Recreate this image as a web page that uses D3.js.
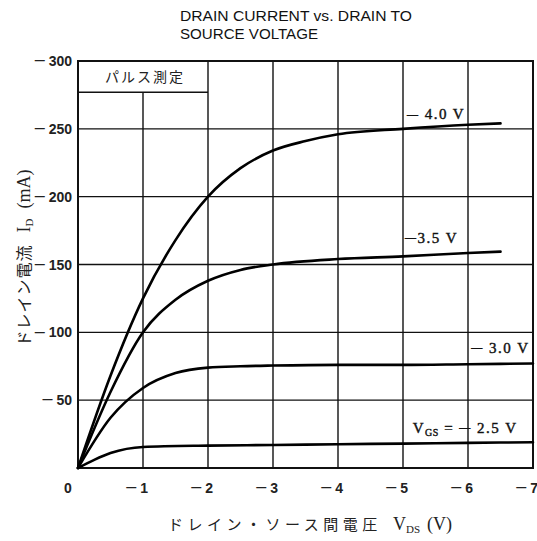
<!DOCTYPE html>
<html>
<head>
<meta charset="utf-8">
<script src="https://cdn.jsdelivr.net/npm/d3@7"></script>
<style>
  body { margin: 0; background: #fff; }
  svg { display: block; }
</style>
</head>
<body>
<div id="vis"></div>
<script>
// frame
const FRAME_WIDTH = 537
const FRAME_HEIGHT = 541
const MARGINS = {left: 78, right: 4, top: 61, bottom: 73}

// data, VDS in -V, ID in -mA
const vdsTicks = [0, 1, 2, 3, 4, 5, 6, 7]
const idTicks = [50, 100, 150, 200, 250, 300]

const vgs40_x = [0, 0.5, 1, 1.5, 2, 2.5, 3, 3.5, 4, 5, 6, 6.5]
const vgs40_y = [0, 68, 125, 168, 200, 221, 234, 241, 246, 250, 253, 254]

const vgs35_x = [0, 0.5, 1, 1.5, 2, 2.5, 3, 4, 5, 6, 6.5]
const vgs35_y = [0, 56, 100, 124, 138, 146, 150, 154, 156, 158.5, 159.5]

const vgs30_x = [0, 0.5, 1, 1.5, 2, 2.5, 3, 4, 5, 6, 7]
const vgs30_y = [0, 37, 59, 70, 74, 75, 75.5, 76, 76, 76.5, 77]

const vgs25_x = [0, 0.25, 0.5, 1, 2, 3, 4, 5, 6, 7]
const vgs25_y = [0, 6, 11, 15.5, 16.5, 17, 17.5, 18, 18.5, 19]

const VIS_WIDTH = FRAME_WIDTH - MARGINS.left - MARGINS.right
const VIS_HEIGHT = FRAME_HEIGHT - MARGINS.top - MARGINS.bottom

const FRAME = d3.select('#vis')
                .append('svg')
                .attr('width', FRAME_WIDTH)
                .attr('height', FRAME_HEIGHT)

const x = d3.scaleLinear().domain([0, 7]).range([MARGINS.left, MARGINS.left + VIS_WIDTH])
const y = d3.scaleLinear().domain([0, 300]).range([MARGINS.top + VIS_HEIGHT, MARGINS.top])

// a short minus dash (raised back to mid height) followed by the rest of the text
function dashed(sel, rest, dashSize) {
  sel.append('tspan').attr('font-size', dashSize).attr('dy', -1.8).text('—')
  sel.append('tspan').attr('dy', 1.8).text(rest)
}

// title
const title = FRAME.append('g')
    .attr('font-family', 'Liberation Sans, Arial, sans-serif')
    .attr('font-size', 15)
    .attr('fill', '#111')
title.append('text').attr('x', 180).attr('y', 21)
    .attr('textLength', 232).attr('lengthAdjust', 'spacingAndGlyphs')
    .text('DRAIN CURRENT vs. DRAIN TO')
title.append('text').attr('x', 180).attr('y', 39)
    .attr('textLength', 138).attr('lengthAdjust', 'spacingAndGlyphs')
    .text('SOURCE VOLTAGE')

// grid: horizontal lines
const grid = FRAME.append('g').attr('stroke', '#111').attr('stroke-width', 1.4)
grid.selectAll('line.h')
    .data(idTicks.filter(d => d < 300))
    .enter().append('line')
      .attr('class', 'h')
      .attr('x1', x(0)).attr('x2', x(7))
      .attr('y1', d => y(d)).attr('y2', d => y(d))

// vertical lines (the first one starts below the pulse box)
const boxBottom = y(277)
grid.selectAll('line.v')
    .data(vdsTicks.slice(1, 7))
    .enter().append('line')
      .attr('class', 'v')
      .attr('x1', d => x(d)).attr('x2', d => x(d))
      .attr('y1', d => d === 1 ? boxBottom : y(300))
      .attr('y2', y(0))

// pulse box
grid.append('line')
    .attr('x1', x(0)).attr('x2', x(2))
    .attr('y1', boxBottom).attr('y2', boxBottom)
FRAME.append('text')
    .attr('x', (x(0) + x(2)) / 2 + 2)
    .attr('y', y(300) + 21)
    .attr('text-anchor', 'middle')
    .attr('font-family', 'Noto Sans CJK JP')
    .attr('font-size', 14)
    .attr('letter-spacing', 2)
    .attr('fill', '#222')
    .text('パルス測定')

// frame border
FRAME.append('rect')
    .attr('x', x(0)).attr('y', y(300))
    .attr('width', x(7) - x(0)).attr('height', y(0) - y(300))
    .attr('fill', 'none')
    .attr('stroke', '#111')
    .attr('stroke-width', 2)

// curves
const line = d3.line()
    .x(d => x(d[0]))
    .y(d => y(d[1]))
    .curve(d3.curveMonotoneX)

const series = [
  [vgs40_x, vgs40_y],
  [vgs35_x, vgs35_y],
  [vgs30_x, vgs30_y],
  [vgs25_x, vgs25_y]
]

FRAME.selectAll('path.curve')
    .data(series.map(s => s[0].map((v, i) => [v, s[1][i]])))
    .enter().append('path')
      .attr('class', 'curve')
      .attr('d', line)
      .attr('fill', 'none')
      .attr('stroke', '#000')
      .attr('stroke-width', 2.6)
      .attr('stroke-linecap', 'round')

// curve labels
const lab = FRAME.append('g')
    .attr('font-family', 'Liberation Serif, Times New Roman, serif')
    .attr('font-size', 15)
    .attr('fill', '#111')
    .attr('stroke', '#111')
    .attr('stroke-width', 0.4)
    .attr('letter-spacing', 1.5)

dashed(lab.append('text').attr('x', x(5.06)).attr('y', y(257)), ' 4.0 V', 11)
dashed(lab.append('text').attr('x', x(5.03)).attr('y', y(166)), '3.5 V', 11)
dashed(lab.append('text').attr('x', x(6.05)).attr('y', y(85)), ' 3.0 V', 11)
const vgsLab = lab.append('text').attr('x', x(5.15)).attr('y', y(26))
vgsLab.append('tspan').text('V')
vgsLab.append('tspan').attr('font-size', 10).attr('dy', 3).attr('letter-spacing', 0.5).text('GS')
vgsLab.append('tspan').attr('dy', -3).text(' = ')
dashed(vgsLab, ' 2.5 V', 11)

// y tick labels
const tickFont = 'Liberation Sans, Arial, sans-serif'
FRAME.selectAll('text.ytick')
    .data(idTicks)
    .enter().append('text')
      .attr('class', 'ytick')
      .attr('x', MARGINS.left - 6)
      .attr('y', d => y(d) + 5)
      .attr('text-anchor', 'end')
      .attr('font-family', tickFont)
      .attr('font-size', 14)
      .attr('font-weight', 'bold')
      .attr('fill', '#222')
      .each(function(d) { dashed(d3.select(this), ' ' + d, 10) })

// x tick labels
FRAME.selectAll('text.xtick')
    .data(vdsTicks)
    .enter().append('text')
      .attr('class', 'xtick')
      .attr('x', d => d === 0 ? x(0) - 10 : x(d) + 5)
      .attr('y', y(0) + 25)
      .attr('text-anchor', d => d === 0 ? 'middle' : 'end')
      .attr('font-family', tickFont)
      .attr('font-size', 14)
      .attr('font-weight', 'bold')
      .attr('fill', '#222')
      .each(function(d) {
        if (d === 0) d3.select(this).text('0')
        else dashed(d3.select(this), ' ' + d, 10)
      })

// x axis title
const xt = FRAME.append('text')
    .attr('x', 168)
    .attr('y', 530)
    .attr('fill', '#222')
    .attr('font-size', 15)
xt.append('tspan')
    .attr('font-family', 'Noto Sans CJK JP')
    .attr('letter-spacing', 4.5)
    .text('ドレイン・ソース間電圧')
xt.append('tspan')
    .attr('x', 393)
    .attr('font-family', 'Liberation Serif, serif')
    .attr('font-size', 18)
    .text('V')
xt.append('tspan')
    .attr('font-family', 'Liberation Serif, serif')
    .attr('font-size', 11)
    .attr('dy', 3)
    .text('DS')
xt.append('tspan')
    .attr('font-family', 'Liberation Serif, serif')
    .attr('font-size', 18)
    .attr('dy', -3)
    .attr('dx', 7)
    .text('(V)')

// y axis title
const yt = FRAME.append('text')
    .attr('transform', 'translate(30,' + 258 + ') rotate(-90)')
    .attr('text-anchor', 'middle')
    .attr('fill', '#222')
    .attr('font-size', 16)
yt.append('tspan')
    .attr('font-family', 'Noto Sans CJK JP')
    .attr('letter-spacing', 1)
    .text('ドレイン電流')
yt.append('tspan')
    .attr('font-family', 'Liberation Serif, serif')
    .attr('font-size', 18)
    .attr('dx', 12)
    .text('I')
yt.append('tspan')
    .attr('font-family', 'Liberation Serif, serif')
    .attr('font-size', 11)
    .attr('dy', 3)
    .text('D')
yt.append('tspan')
    .attr('font-family', 'Liberation Serif, serif')
    .attr('font-size', 18)
    .attr('dy', -3)
    .attr('dx', 10)
    .text('(mA)')
</script>
</body>
</html>
